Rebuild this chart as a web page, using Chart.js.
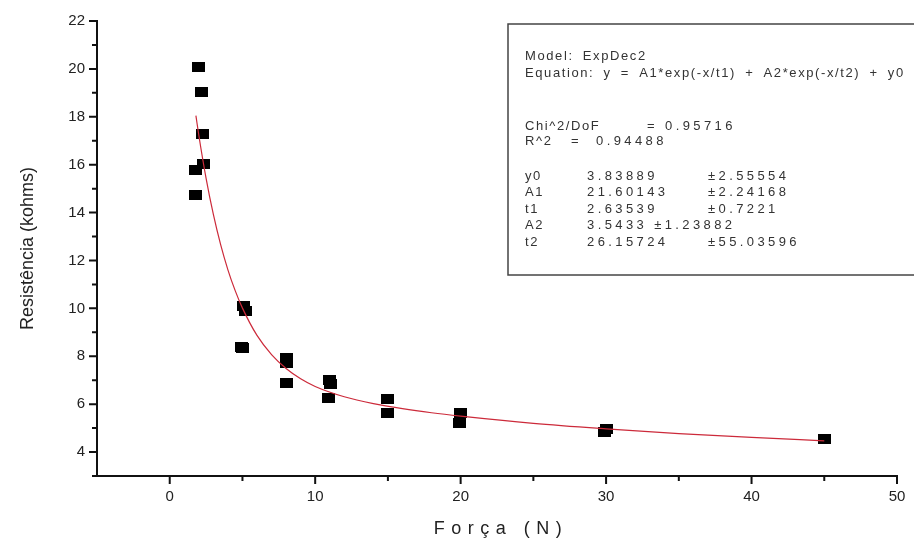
<!DOCTYPE html>
<html><head><meta charset="utf-8">
<script src="https://cdn.jsdelivr.net/npm/chart.js@4.4.1/dist/chart.umd.min.js"></script>
<style>html,body{margin:0;padding:0;background:#fff;}#wrap{width:914px;height:546px;position:relative;}</style>
</head><body><div id="wrap"><canvas id="c"></canvas></div>
<script>
// measured points: Força (N) vs Resistência (kohms)
const forceN      = [1.8, 1.8, 1.95, 2.2, 2.25, 2.35, 4.9, 5.0, 5.1, 5.2, 8.0, 8.0, 8.0, 10.9, 11.0, 11.05, 15.0, 15.0, 19.9, 20.0, 29.9, 30.0, 45.0];
const resistance  = [14.72, 15.76, 20.1, 19.04, 17.29, 16.03, 8.38, 8.35, 10.08, 9.88, 7.94, 7.72, 6.88, 6.25, 7.02, 6.86, 6.23, 5.62, 5.22, 5.63, 4.83, 4.95, 4.53];
// fitted ExpDec2 curve
const fitForce      = [1.8, 2, 2.5, 3, 3.5, 4, 4.5, 5, 6, 7, 8, 9, 10, 12, 14, 16, 18, 20, 25, 30, 35, 40, 45];
const fitResistance = [18.05, 17.23, 15.43, 13.92, 12.66, 11.61, 10.74, 10.01, 8.87, 8.07, 7.49, 7.06, 6.74, 6.31, 6.02, 5.81, 5.64, 5.50, 5.20, 4.97, 4.77, 4.61, 4.47];
// ticks
const xTickValues  = [0, 10, 20, 30, 40, 50];
const xMinorValues = [5, 15, 25, 35, 45];
const yTickValues  = [4, 6, 8, 10, 12, 14, 16, 18, 20, 22];
const yMinorValues = [3, 5, 7, 9, 11, 13, 15, 17, 19, 21];
const xTitle = 'Força (N)';
const yTitle = 'Resistência (kohms)';
// fit report box
const fitHeader = ['Model: ExpDec2', 'Equation: y = A1*exp(-x/t1) + A2*exp(-x/t2) + y0'];
const fitStats  = [['Chi^2/DoF', '= 0.95716'], ['R^2', '=  0.94488']];
const paramNames  = ['y0', 'A1', 't1', 'A2', 't2'];
const paramValues = ['3.83889', '21.60143', '2.63539', '3.5433 ±1.23882', '26.15724'];
const paramErrors = ['±2.55554', '±2.24168', '±0.7221', '', '±55.03596'];

const FONT = '"Liberation Sans", Arial, sans-serif';

const marker = document.createElement('canvas');
marker.width = 13; marker.height = 10;
(function(){ const m = marker.getContext('2d'); m.fillStyle = '#000'; m.fillRect(0,0,13,10); })();

const axisDeco = {
  id: 'axisDeco',
  afterLayout(chart) {
    const s = chart.scales.x;
    if (!s._lsWrapped) {
      const orig = s.drawTitle;
      s.drawTitle = function() {
        const c = this.ctx; c.save(); c.letterSpacing = '6.5px'; c.translate(4, 0); orig.call(this); c.restore();
      };
      s._lsWrapped = true;
    }
  },
  afterDraw(chart) {
    const ctx = chart.ctx, xs = chart.scales.x, ys = chart.scales.y;
    const a = chart.chartArea;
    ctx.save();
    ctx.strokeStyle = '#111';
    ctx.lineWidth = 2;
    ctx.beginPath();
    xTickValues.forEach(v => { const p = xs.getPixelForValue(v); ctx.moveTo(p, a.bottom); ctx.lineTo(p, a.bottom + 8); });
    xMinorValues.forEach(v => { const p = xs.getPixelForValue(v); ctx.moveTo(p, a.bottom); ctx.lineTo(p, a.bottom + 5); });
    yTickValues.forEach(v => { const p = ys.getPixelForValue(v); ctx.moveTo(a.left, p); ctx.lineTo(a.left - 8, p); });
    yMinorValues.forEach(v => { const p = ys.getPixelForValue(v); ctx.moveTo(a.left, p); ctx.lineTo(a.left - 5, p); });
    ctx.stroke();

    // fit report box
    const bx = 508, by = 24, bh = 251;
    ctx.fillStyle = '#fff';
    ctx.fillRect(bx, by, chart.width - bx + 10, bh);
    ctx.strokeStyle = '#444';
    ctx.lineWidth = 1.5;
    ctx.strokeRect(bx, by, chart.width - bx + 10, bh);
    ctx.fillStyle = '#333';
    ctx.font = '13px ' + FONT;
    ctx.textBaseline = 'middle';
    ctx.textAlign = 'left';
    const label = () => { ctx.letterSpacing = '1.6px'; ctx.wordSpacing = '4px'; };
    const num = () => { ctx.letterSpacing = '3.4px'; ctx.wordSpacing = '0px'; };
    const tx = bx + 17;
    label();
    ctx.fillText(fitHeader[0], tx, 56);
    ctx.fillText(fitHeader[1], tx, 73);
    ctx.fillText(fitStats[0][0], tx, 126);
    ctx.fillText(fitStats[1][0], tx, 141);
    num();
    ctx.fillText(fitStats[0][1], 647, 126);
    ctx.fillText(fitStats[1][1], 571, 141);
    paramNames.forEach((n, i) => {
      const y = 176 + i * 16.6;
      label();
      ctx.fillText(n, tx, y);
      num();
      ctx.fillText(paramValues[i], 587, y);
      if (paramErrors[i]) ctx.fillText(paramErrors[i], 708, y);
    });
    ctx.restore();
  }
};

new Chart(document.getElementById('c'), {
  type: 'scatter',
  data: {
    datasets: [
      {
        type: 'line',
        data: fitForce.map((x, i) => ({x, y: fitResistance[i]})),
        borderColor: '#cc2a3a',
        borderWidth: 1.2,
        pointRadius: 0,
        fill: false,
        cubicInterpolationMode: 'monotone',
        order: 0
      },
      {
        data: forceN.map((x, i) => ({x, y: resistance[i]})),
        pointStyle: marker,
        pointRadius: 6,
        backgroundColor: '#000',
        borderColor: '#000',
        order: 1
      }
    ]
  },
  options: {
    responsive: true,
    maintainAspectRatio: false,
    animation: false,
    devicePixelRatio: 1,
    layout: { padding: { top: 19, right: 17, left: 0, bottom: 0 } },
    plugins: { legend: { display: false }, tooltip: { enabled: false } },
    scales: {
      x: {
        type: 'linear', min: -5, max: 50,
        afterBuildTicks: s => { s.ticks = xTickValues.map(v => ({ value: v })); },
        afterFit: s => { s.height = 70; s.paddingRight = 0; s.paddingLeft = 0; },
        grid: { display: false, drawTicks: false },
        border: { display: true, color: '#111', width: 2 },
        ticks: { padding: 12, color: '#222', font: { family: FONT, size: 15 }, maxRotation: 0, autoSkip: false },
        title: { display: true, text: xTitle, color: '#222', font: { family: FONT, size: 18 }, padding: { top: 0, bottom: 6 } }
      },
      y: {
        type: 'linear', min: 3, max: 22,
        afterBuildTicks: s => { s.ticks = yTickValues.map(v => ({ value: v })); },
        afterFit: s => { s.width = 97; },
        grid: { display: false, drawTicks: false },
        border: { display: true, color: '#111', width: 2 },
        ticks: { padding: 12, color: '#222', font: { family: FONT, size: 15 }, autoSkip: false },
        title: { display: true, text: yTitle, color: '#222', font: { family: FONT, size: 18 }, padding: { top: 17, bottom: 0 } }
      }
    }
  },
  plugins: [axisDeco]
});
</script>
</body></html>
